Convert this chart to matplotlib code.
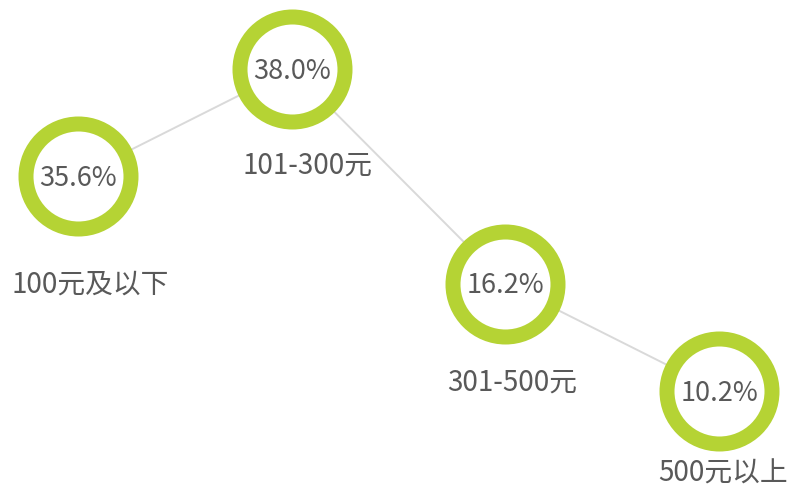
import matplotlib.pyplot as plt

plt.rcParams['font.family'] = ['Noto Sans CJK SC', 'DejaVu Sans']

categories = ["100元及以下", "101-300元", "301-500元", "500元以上"]
shares = [35.6, 38.0, 16.2, 10.2]

RING = "#b5d334"
LINE = "#d9d9d9"
TEXT = "#595959"
DPI = 100


def px(v):
    # pixels -> points
    return v * 72 / DPI


# vertical level = rank of the share (largest at the top)
order = sorted(range(len(shares)), key=lambda i: -shares[i])
ranks = [order.index(i) for i in range(len(shares))]
xs = list(range(len(shares)))

fig = plt.figure(figsize=(7.9, 4.9), dpi=DPI)
ax = fig.add_axes([0, 0, 1, 1])
ax.set_xlim(-0.365, 3.332)
ax.set_ylim(3.922, -0.643)
ax.axis("off")

ax.plot(xs, ranks, color=LINE, lw=1.4, zorder=1)
ax.scatter(xs, ranks, s=px(105) ** 2, facecolor="white", edgecolor=RING,
           linewidth=px(15), zorder=2)

# label offsets below each ring, in pixels
label_dx = [12, 16, 7, 4]
label_dy = [108, 97, 99, 83]
for x, y, v, name, dx, dy in zip(xs, ranks, shares, categories, label_dx, label_dy):
    ax.annotate(f"{v:.1f}%", (x, y), xytext=(0, px(-2)), textcoords="offset points",
                ha="center", va="center", fontsize=19.5, color=TEXT, zorder=3)
    ax.annotate(name, (x, y), xytext=(px(dx), px(-dy)), textcoords="offset points",
                ha="center", va="center", fontsize=20, color=TEXT, zorder=3)

fig.savefig("out.png", dpi=DPI)
